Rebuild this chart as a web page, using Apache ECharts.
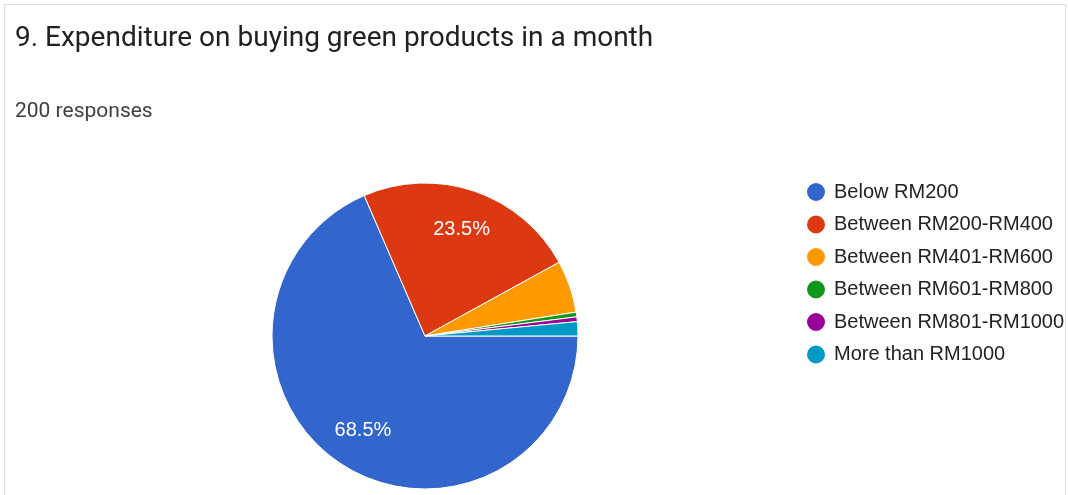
<!DOCTYPE html>
<html>
<head>
<meta charset="utf-8">
<style>
  html, body { margin: 0; padding: 0; background: #ffffff; }
  #card {
    position: absolute; left: 4px; top: 4px; width: 1062px; height: 500px;
    border-left: 1px solid #dadce0; border-top: 1px solid #dadce0; border-right: 1px solid #dadce0;
    box-sizing: border-box; background: #ffffff;
  }
  #chart { position: absolute; left: 0; top: 0; width: 1068px; height: 495px; }
</style>
<script src="https://cdn.jsdelivr.net/npm/echarts@6/dist/echarts.min.js"></script>
</head>
<body>
<div id="card"></div>
<div id="chart"></div>
<script>
// Survey question and answer counts
const questionTitle = '9. Expenditure on buying green products in a month';
const responseCount = 200;
const categories = [
  'Below RM200',
  'Between RM200-RM400',
  'Between RM401-RM600',
  'Between RM601-RM800',
  'Between RM801-RM1000',
  'More than RM1000'
];
const counts = [137, 47, 11, 1, 1, 3];
const sliceColors = ['#3366cc', '#dc3912', '#ff9900', '#109618', '#990099', '#0099c6'];
// slices smaller than this share get no percentage label
const labelMinShare = 0.06;

const total = counts.reduce((a, b) => a + b, 0);
const center = [425, 336];

const pieData = categories.map((name, i) => ({
  name,
  value: counts[i],
  itemStyle: { color: sliceColors[i] }
}));

// transparent twin pie, larger, used only to place the percentage labels further out
const labelData = categories.map((name, i) => ({
  name,
  value: counts[i],
  itemStyle: { color: 'rgba(0,0,0,0)', borderWidth: 0 },
  label: { show: counts[i] / total >= labelMinShare }
}));

const chart = echarts.init(document.getElementById('chart'), null, { renderer: 'canvas' });
chart.setOption({
  animation: false,
  title: [
    {
      text: questionTitle,
      left: 15, top: 25, padding: 0,
      textStyle: { fontFamily: 'Roboto', fontSize: 28, fontWeight: 'normal', color: '#202124' }
    },
    {
      text: responseCount + ' responses',
      left: 15, top: 101, padding: 0,
      textStyle: { fontFamily: 'Roboto', fontSize: 21, fontWeight: 'normal', color: '#3c4043' }
    }
  ],
  legend: {
    orient: 'vertical',
    left: 805, top: 181, padding: 0,
    icon: 'circle',
    itemWidth: 20, itemHeight: 20,
    itemGap: 10.5,
    selectedMode: false,
    data: categories.map((name, i) => ({ name, itemStyle: { color: sliceColors[i] } })),
    textStyle: { fontFamily: 'Liberation Sans, Arial', fontSize: 20, color: '#222222', lineHeight: 20, padding: [0, 0, 0, 3] }
  },
  series: [
    {
      type: 'pie',
      center,
      radius: [0, 153],
      startAngle: 0,
      clockwise: true,
      avoidLabelOverlap: false,
      label: { show: false },
      labelLine: { show: false },
      itemStyle: { borderColor: '#ffffff', borderWidth: 1 },
      emphasis: { disabled: true },
      data: pieData
    },
    {
      type: 'pie',
      center,
      radius: [0, 220],
      startAngle: 0,
      clockwise: true,
      silent: true,
      legendHoverLink: false,
      avoidLabelOverlap: false,
      label: {
        position: 'inside',
        formatter: p => (p.value / total * 100).toFixed(1) + '%',
        fontFamily: 'Liberation Sans, Arial',
        fontSize: 20,
        color: '#ffffff'
      },
      labelLine: { show: false },
      emphasis: { disabled: true },
      data: labelData
    }
  ]
});
</script>
</body>
</html>
